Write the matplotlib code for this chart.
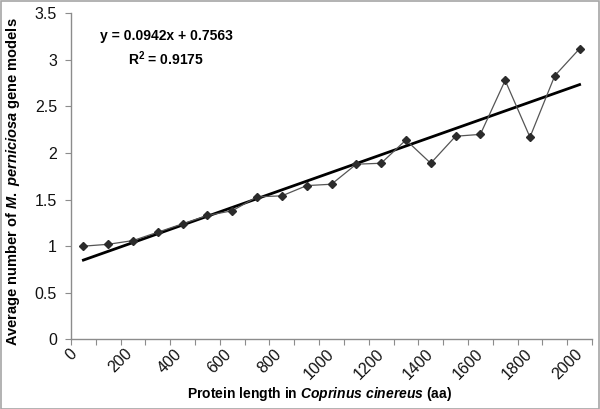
import numpy as np
import matplotlib
matplotlib.use("Agg")
import matplotlib.pyplot as plt
from matplotlib.patches import Rectangle

# protein length bins (midpoints, aa) and average number of gene models
lengths = [50, 150, 250, 350, 450, 550, 650, 750, 850, 950, 1050,
           1150, 1250, 1350, 1450, 1550, 1650, 1750, 1850, 1950, 2050]
avg_models = [1.00, 1.02, 1.06, 1.15, 1.24, 1.33, 1.38, 1.53, 1.54, 1.65, 1.665,
              1.88, 1.89, 2.14, 1.89, 2.18, 2.20, 2.78, 2.17, 2.83, 3.12]

# linear trend (Excel style, x = category index 1..n)
slope = 0.0942
intercept = 0.7563
r2 = 0.9175

x_ticks = list(range(0, 2200, 100))
x_labels = [str(v) if v % 200 == 0 else "" for v in x_ticks]
y_ticks = [0, 0.5, 1, 1.5, 2, 2.5, 3, 3.5]
y_labels = ["0", "0.5", "1", "1.5", "2", "2.5", "3", "3.5"]

plt.rcParams['font.family'] = ['Liberation Sans', 'DejaVu Sans']
plt.rcParams['mathtext.fontset'] = 'custom'
plt.rcParams['mathtext.it'] = 'Liberation Sans:italic:bold'
plt.rcParams['mathtext.rm'] = 'Liberation Sans:bold'

W, H = 600, 409
fig = plt.figure(figsize=(W / 100, H / 100), dpi=100)
ax = fig.add_axes([71 / W, 1 - 339.3 / H, 521 / W, 326 / H])

idx = np.arange(1, len(lengths) + 1)
trend = slope * idx + intercept
ax.plot(lengths, trend, color='black', lw=2.0, zorder=2)
ax.plot(lengths, avg_models, color='#555555', lw=0.9, marker='D', ms=4.5,
        mfc='#2b2b2b', mec='#2b2b2b', zorder=3)

ax.set_xlim(0, 2100)
ax.set_ylim(0, 3.5)
ax.set_xticks(x_ticks)
ax.set_xticklabels(x_labels, rotation=45, ha='center', va='top')
ax.set_yticks(y_ticks)
ax.set_yticklabels(y_labels)

for s in ['top', 'right']:
    ax.spines[s].set_visible(False)
for s in ['left', 'bottom']:
    ax.spines[s].set_color('#8c8c8c')
    ax.spines[s].set_linewidth(1.0)
ax.tick_params(axis='both', direction='out', length=4, color='#8c8c8c',
               labelsize=11.5, labelcolor='#111111')
ax.tick_params(axis='x', pad=1)
ax.tick_params(axis='y', pad=6)


def px(x, y):
    return x / W, 1 - y / H


fig.text(*px(166, 36), "y = 0.0942x + 0.7563", fontsize=10,
         fontweight='bold', ha='center', va='center')
fig.text(*px(166, 59), r"R$^{2}$ = 0.9175", fontsize=10,
         fontweight='bold', ha='center', va='center')

fig.text(*px(320, 394), r"Protein length in $Coprinus\ cinereus$ (aa)",
         fontsize=10, fontweight='bold', ha='center', va='center')
fig.text(*px(13, 182), r"Average number of $M.\ perniciosa$ gene models",
         fontsize=10.5, fontweight='bold', ha='center', va='center', rotation=90)

fig.add_artist(Rectangle((0.001, 0.001), 0.997, 0.996, transform=fig.transFigure,
                         fill=False, edgecolor='#a6a6a6', lw=1.2))

fig.savefig("out.png", dpi=100)
